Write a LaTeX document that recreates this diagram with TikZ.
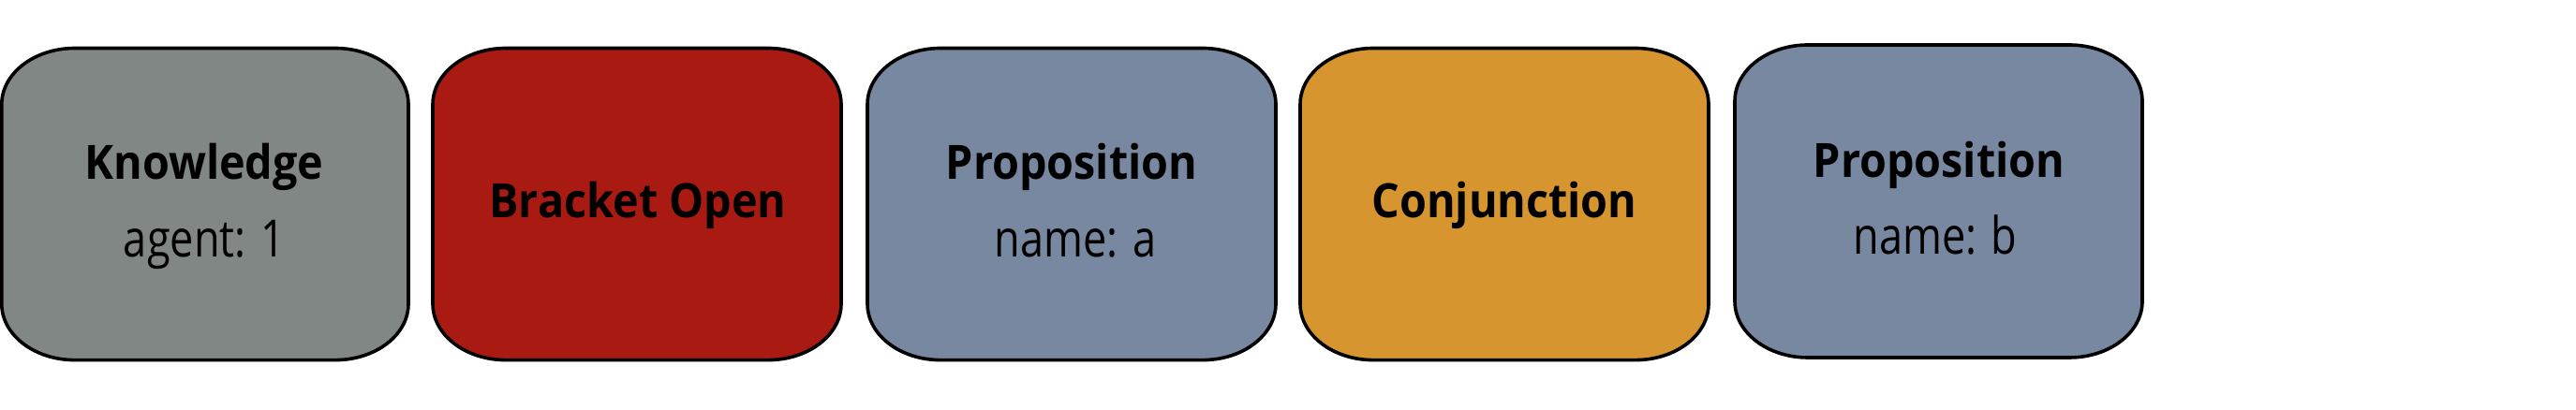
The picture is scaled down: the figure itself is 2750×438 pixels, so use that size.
\documentclass[tikz,border=0pt]{standalone}
\usepackage{fontspec}
\setmainfont{Open Sans}
\definecolor{cgray}{HTML}{808784}
\definecolor{cred}{HTML}{A81A12}
\definecolor{cslate}{HTML}{7888A0}
\definecolor{corange}{HTML}{D6952F}
\newcommand\ebox[5]{% x0 x1 y0 y1 colour (y up)
  \filldraw[boxline, fill=#5] ({#1+78},#4) -- ({#2-78},#4)
    arc[start angle=90, end angle=0, x radius=78, y radius=60] -- (#2,{#3+60})
    arc[start angle=0, end angle=-90, x radius=78, y radius=60] -- ({#1+78},#3)
    arc[start angle=270, end angle=180, x radius=78, y radius=60] -- (#1,{#4-60})
    arc[start angle=180, end angle=90, x radius=78, y radius=60] -- cycle;}
\begin{document}
\begin{tikzpicture}[x=1pt,y=1pt,
  boxline/.style={draw=black, line width=3.6pt},
  title/.style={anchor=base, inner sep=0pt, xscale=0.925, font=\bfseries\fontsize{50.5}{60}\selectfont},
  sub/.style={anchor=base, inner sep=0pt, xscale=0.82, font=\fontsize{55}{66}\selectfont}]
\useasboundingbox (0,0) rectangle (2750,438);
\ebox{1.8}{436}{53.4}{386.5}{cgray}
\ebox{462}{898}{53.4}{386.5}{cred}
\ebox{926}{1362}{53.4}{386.5}{cslate}
\ebox{1388}{1824}{53.4}{386.5}{corange}
\ebox{1852}{2287}{56}{390}{cslate}
\node[title] (k) at (218,246) {Knowledge};
\node[sub] (k2) at (218,163) {agent: 1};
\node[title] (bo) at (681,205) {Bracket Open};
\node[title] (p1) at (1144,246) {Proposition};
\node[sub] (p1b) at (1148,163) {name: a};
\node[title] (cj) at (1606,205) {Conjunction};
\node[title] (p2) at (2070,248) {Proposition};
\node[sub] (p2b) at (2066,166) {name: b};
\end{tikzpicture}
\end{document}
